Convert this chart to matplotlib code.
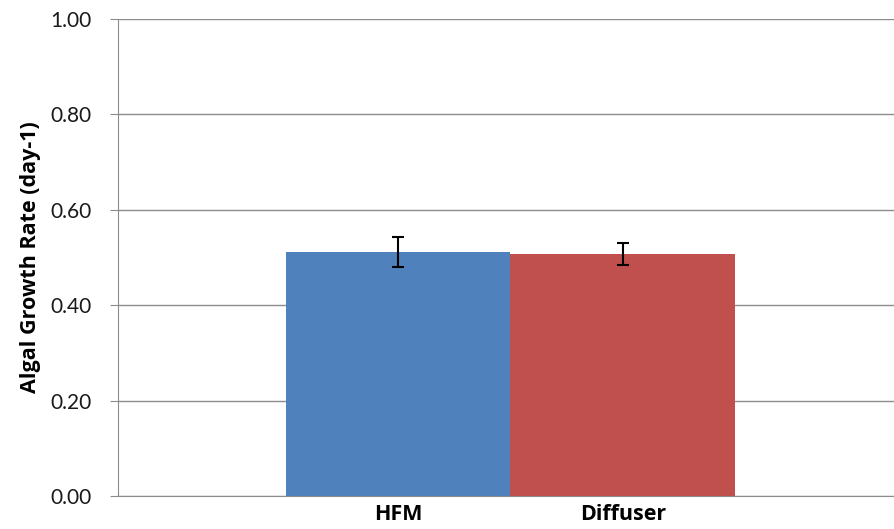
import matplotlib
matplotlib.use("Agg")
import matplotlib.pyplot as plt

# data
categories = ["HFM", "Diffuser"]
rates = [0.512, 0.508]
errors = [0.031, 0.023]
bar_colors = ["#4F81BD", "#C0504D"]
y_ticks = [0.0, 0.2, 0.4, 0.6, 0.8, 1.0]

plt.rcParams['font.family'] = ['Lato', 'DejaVu Sans']
bold_font = ['Open Sans', 'DejaVu Sans']

fig = plt.figure(figsize=(8.94, 5.29), dpi=100)
ax = fig.add_axes([0.132, 0.0624, 0.868, 0.9016])

x = list(range(len(categories)))
ax.bar(x, rates, width=1.0, color=bar_colors, zorder=2)
ax.errorbar(x, rates, yerr=errors, fmt='none', ecolor='black',
            elinewidth=1.5, capsize=4.5, capthick=1.5, zorder=3)

ax.set_ylim(0, 1.0)
ax.set_xlim(-1.248, 2.208)
ax.set_yticks(y_ticks)
ax.set_yticklabels([f"{v:.2f}" for v in y_ticks], fontsize=15, color='#1a1a1a')
ax.set_xticks(x)
ax.set_xticklabels(categories, fontsize=15.5, fontweight='bold', family=bold_font)
ax.set_ylabel("Algal Growth Rate (day-1)", fontsize=15.5, fontweight='bold',
              family=bold_font, labelpad=7)

ax.grid(axis='y', color='#8c8c8c', linewidth=1.0, zorder=0)
for s in ['top', 'right']:
    ax.spines[s].set_visible(False)
ax.spines['left'].set_color('#8c8c8c')
ax.spines['bottom'].set_color('#8c8c8c')
ax.tick_params(axis='y', length=5.8, color='#8c8c8c', pad=13)
ax.tick_params(axis='x', length=0, pad=6)

fig.savefig("out.png", dpi=100)
